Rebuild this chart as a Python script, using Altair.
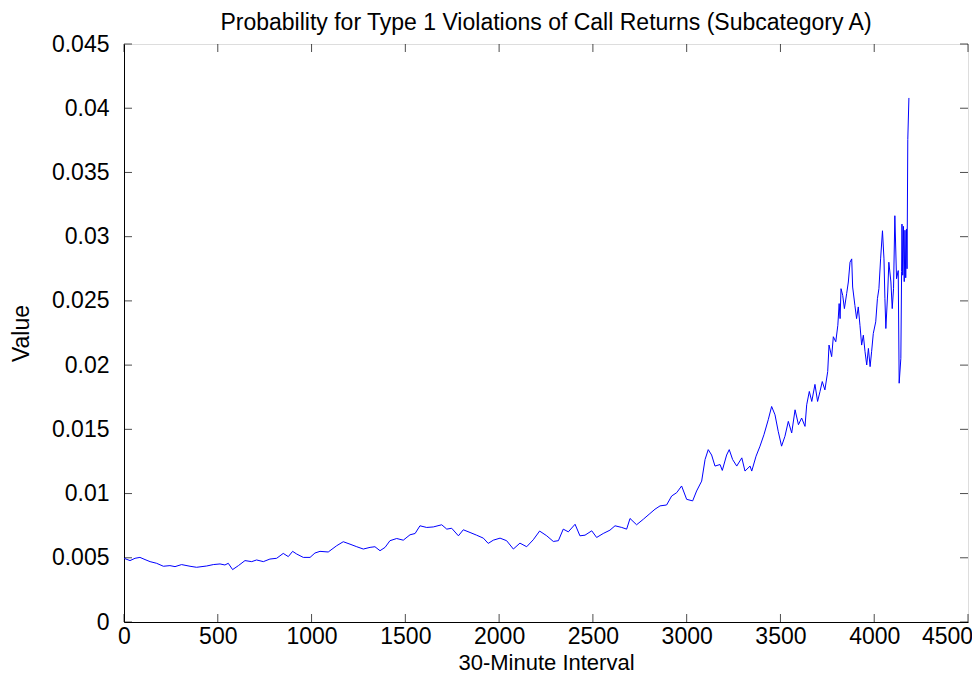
import altair as alt
import pandas as pd

interval = [0, 32, 59, 85, 112, 139, 174, 210, 245, 272, 307, 352, 387, 441, 476, 512, 538, 556, 579,
            610, 645, 681, 707, 743, 778, 814, 849, 876, 899, 921, 956, 992, 1018, 1045, 1089, 1134,
            1169, 1205, 1241, 1276, 1312, 1338, 1365, 1392, 1418, 1454, 1489, 1525, 1552, 1578, 1614,
            1649, 1694, 1721, 1747, 1783, 1809, 1845, 1880, 1916, 1942, 1969, 2005, 2040, 2076, 2111,
            2147, 2182, 2216, 2254, 2289, 2316, 2342, 2369, 2405, 2431, 2458, 2494, 2520, 2555, 2591,
            2618, 2654, 2680, 2698, 2733, 2769, 2804, 2831, 2858, 2893, 2920, 2947, 2973, 3000, 3032,
            3053, 3080, 3098, 3115, 3133, 3151, 3178, 3190, 3213, 3227, 3245, 3267, 3294, 3311, 3338,
            3347, 3370, 3391, 3412, 3435, 3453, 3471, 3488, 3506, 3524, 3542, 3560, 3578, 3596, 3613,
            3631, 3640, 3654, 3667, 3684, 3698, 3711, 3723, 3737, 3752, 3759, 3773, 3782, 3795, 3806,
            3813, 3818, 3823, 3832, 3841, 3853, 3862, 3871, 3880, 3885, 3897, 3906, 3915, 3924, 3933,
            3942, 3951, 3960, 3969, 3978, 3986, 3995, 4008, 4017, 4025, 4034, 4044, 4052, 4057, 4062,
            4072, 4078, 4089, 4096, 4103, 4110, 4119, 4128, 4133, 4142, 4146, 4148, 4152, 4156, 4160,
            4164, 4168, 4172, 4175, 4179, 4185]

value = [0.00496, 0.00478, 0.00496, 0.00503, 0.00486, 0.00470, 0.00457, 0.00434, 0.00439, 0.00431,
         0.00447, 0.00434, 0.00426, 0.00436, 0.00447, 0.00452, 0.00444, 0.00457, 0.00408,
         0.00439, 0.00478, 0.00470, 0.00483, 0.00470, 0.00490, 0.00496, 0.00534, 0.00509, 0.00550,
         0.00529, 0.00503, 0.00503, 0.00537, 0.00550, 0.00545, 0.00594,
         0.00625, 0.00606, 0.00586, 0.00568, 0.00581, 0.00586, 0.00555, 0.00581, 0.00633, 0.00650,
         0.00637, 0.00679, 0.00689, 0.00749, 0.00736,
         0.00740, 0.00757, 0.00723, 0.00730, 0.00671, 0.00718, 0.00697, 0.00676, 0.00653, 0.00612,
         0.00637, 0.00653, 0.00633, 0.00568, 0.00614,
         0.00586, 0.00640, 0.00708, 0.00671, 0.00627, 0.00633, 0.00723, 0.00702, 0.00761, 0.00671,
         0.00676, 0.00710, 0.00658, 0.00689, 0.00715,
         0.00749, 0.00736, 0.00723, 0.00806, 0.00757, 0.00800, 0.00844, 0.00878, 0.00904, 0.00911,
         0.00981, 0.01007, 0.01059, 0.00955, 0.00943,
         0.01020, 0.01097, 0.01265, 0.01342, 0.01300, 0.01214, 0.01226, 0.01180, 0.01300, 0.01342,
         0.01265, 0.01214, 0.01278, 0.01175, 0.01214,
         0.01175, 0.01291, 0.01369, 0.01458, 0.01575, 0.01678, 0.01613, 0.01485, 0.01369, 0.01446,
         0.01562, 0.01472, 0.01652, 0.01536, 0.01588,
         0.01523, 0.01691, 0.01795, 0.01717, 0.01850, 0.01717, 0.01795, 0.01872, 0.01807, 0.01950,
         0.02156, 0.02066, 0.02221, 0.02182, 0.02310,
         0.02479, 0.02362, 0.02595, 0.02543, 0.02440, 0.02556, 0.02647, 0.02801, 0.02827, 0.02608,
         0.02465, 0.02362, 0.02453, 0.02310, 0.02156,
         0.02233, 0.02104, 0.02001, 0.02130, 0.01988, 0.02104, 0.02246, 0.02337, 0.02517, 0.02595,
         0.02827, 0.03046, 0.02827, 0.02517, 0.02285,
         0.02569, 0.02801, 0.02647, 0.02440, 0.02595, 0.03163, 0.02672, 0.02736, 0.01859, 0.02053,
         0.02730, 0.03098, 0.02700, 0.03080, 0.02650,
         0.03050, 0.02680, 0.03060, 0.02750, 0.03756, 0.04080]

x_ticks = [0, 500, 1000, 1500, 2000, 2500, 3000, 3500, 4000, 4500]
y_ticks = [0, 0.005, 0.01, 0.015, 0.02, 0.025, 0.03, 0.035, 0.04, 0.045]

W, H = 844, 578
FONT = "Liberation Sans"
FS = 23

df = pd.DataFrame({"interval": interval, "value": value})
dfx = pd.DataFrame({"t": x_ticks})
dfy = pd.DataFrame({"t": y_ticks})

xscale = alt.Scale(domain=[0, 4500], nice=False, zero=False)
yscale = alt.Scale(domain=[0, 0.045], nice=False, zero=False)

line = alt.Chart(df).mark_line(color="#0000ff", strokeWidth=1, clip=True).encode(
    x=alt.X("interval:Q", scale=xscale,
            axis=alt.Axis(values=x_ticks, ticks=False, grid=False, title="30-Minute Interval",
                          format="d",
                          labelFontSize=FS, titleFontSize=22, labelFont=FONT, titleFont=FONT,
                          labelColor="black", titleColor="black", titleFontWeight="normal",
                          labelPadding=3, titlePadding=4, domainColor="black",
                          labelOffset={"condition": {"test": "datum.value == 4500", "value": -21},
                                       "value": 0},
                          labelFlush=False)),
    y=alt.Y("value:Q", scale=yscale,
            axis=alt.Axis(values=y_ticks, ticks=False, grid=False, title="Value",
                          labelExpr="format(datum.value, '~g')",
                          labelFontSize=FS, titleFontSize=FS, labelFont=FONT, titleFont=FONT,
                          labelColor="black", titleColor="black", titleFontWeight="normal",
                          labelPadding=15, titlePadding=18, domainColor="black",
                          labelFlush=False)),
)

tick_len = 8
xt_bottom = alt.Chart(dfx).mark_tick(color="black", size=tick_len, thickness=1).encode(
    x=alt.X("t:Q", scale=xscale), y=alt.value(H - tick_len / 2))
xt_top = alt.Chart(dfx).mark_tick(color="black", size=tick_len, thickness=1).encode(
    x=alt.X("t:Q", scale=xscale), y=alt.value(tick_len / 2))
yt_left = alt.Chart(dfy).mark_tick(color="black", size=tick_len, thickness=1).encode(
    y=alt.Y("t:Q", scale=yscale), x=alt.value(tick_len / 2))
yt_right = alt.Chart(dfy).mark_tick(color="black", size=tick_len, thickness=1).encode(
    y=alt.Y("t:Q", scale=yscale), x=alt.value(W - tick_len / 2))

chart = alt.layer(line, xt_bottom, xt_top, yt_left, yt_right).properties(
    width=W, height=H,
    title=alt.TitleParams("Probability for Type 1 Violations of Call Returns (Subcategory A)",
                          font=FONT, fontSize=23, fontWeight="normal", color="black",
                          offset=2, dy=4),
    autosize=alt.AutoSizeParams(type="none"),
    padding={"left": 116, "top": 36, "right": 4, "bottom": 56},
).configure_view(stroke="black", strokeWidth=1).configure(background="white")

chart.save("out.html", embed_options={"renderer": "svg", "actions": False})
